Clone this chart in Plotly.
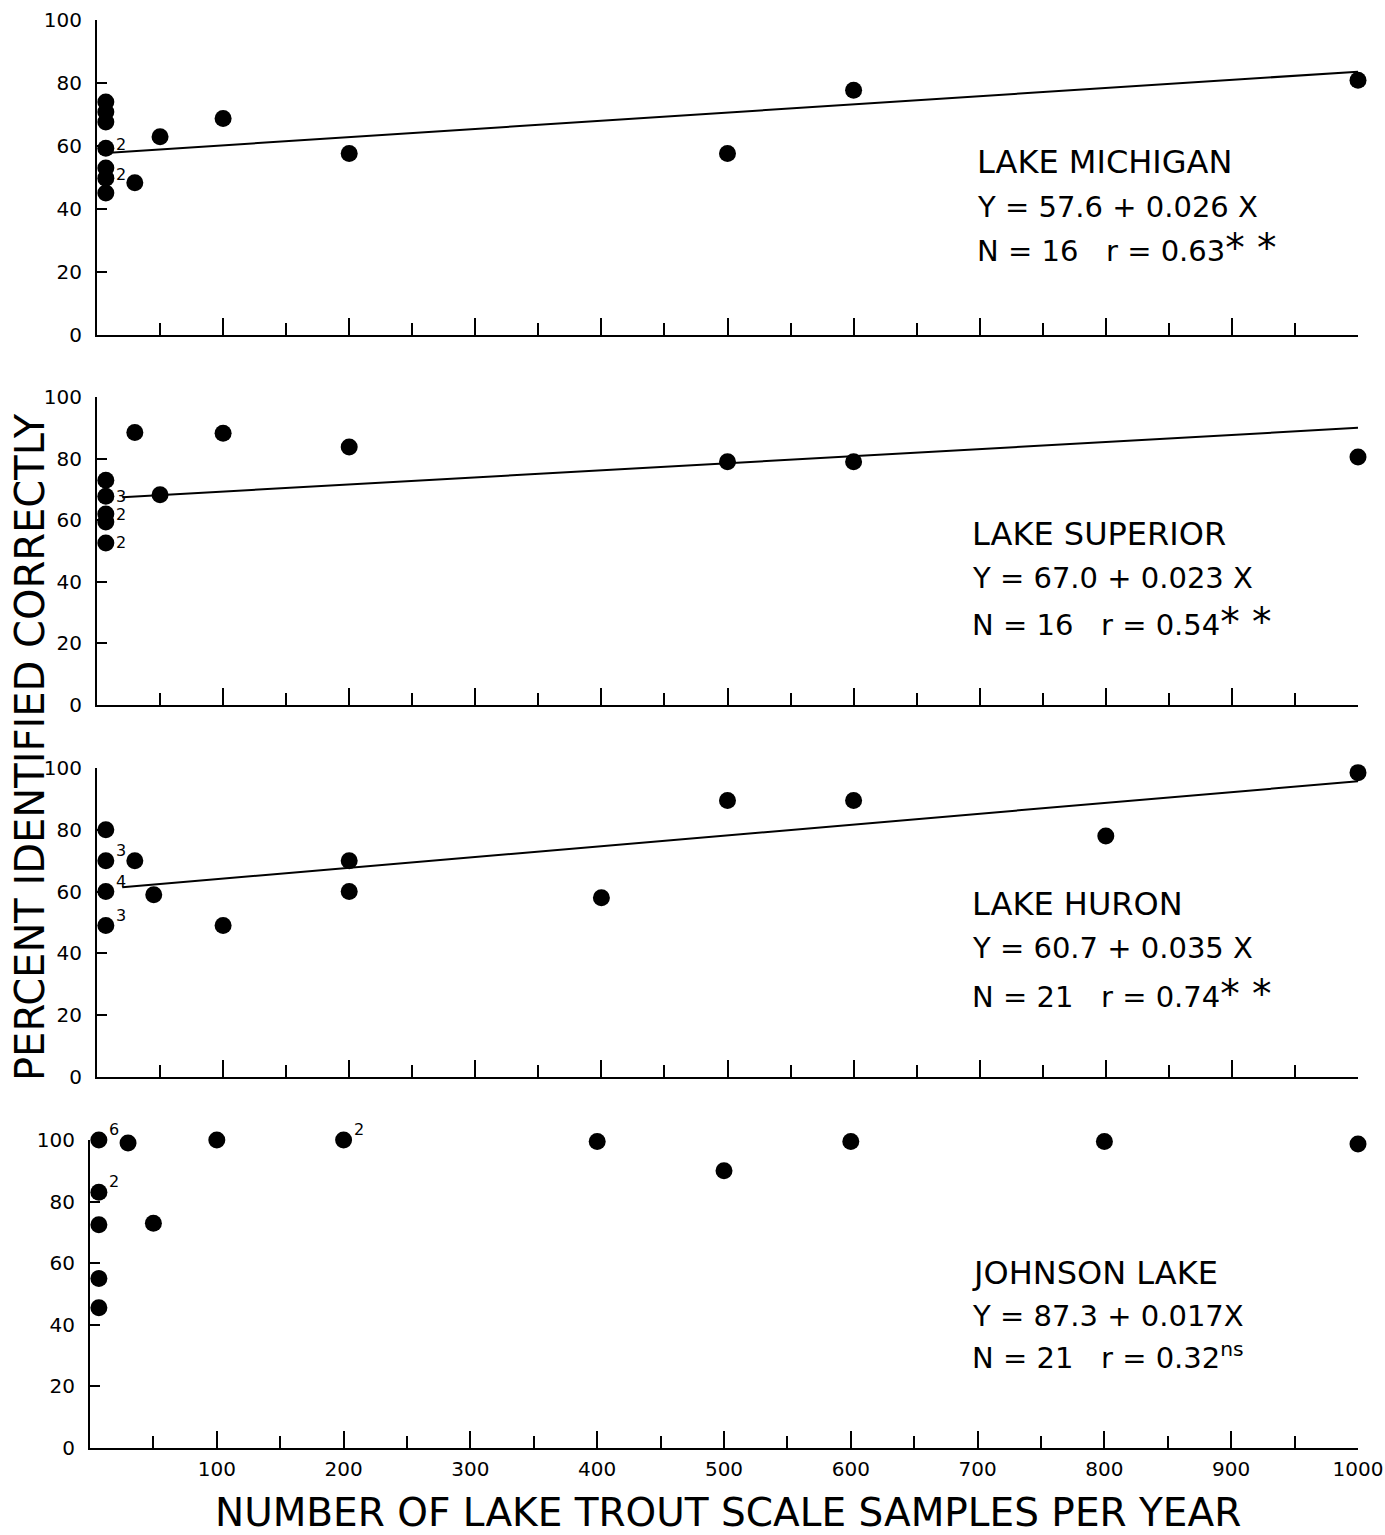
import plotly.graph_objects as go

# ---------------- data ----------------
lake_names = ["LAKE MICHIGAN", "LAKE SUPERIOR", "LAKE HURON", "JOHNSON LAKE"]
equations = ["Y = 57.6 + 0.026 X", "Y = 67.0 + 0.023 X", "Y = 60.7 + 0.035 X", "Y = 87.3 + 0.017X"]
intercepts = [57.6, 67.0, 60.7, 87.3]
slopes = [0.026, 0.023, 0.035, 0.017]
n_obs = [16, 16, 21, 21]
r_vals = ["0.63", "0.54", "0.74", "0.32"]
signif = ["* *", "* *", "* *", "ns"]
show_line = [True, True, True, False]
line_start = [10, 20, 20, 10]

michigan_x = [7, 7, 7, 7, 7, 7, 7, 30, 50, 100, 200, 500, 600, 1000]
michigan_y = [74, 70.8, 67.6, 59.3, 53, 49.8, 45.1, 48.3, 62.9, 68.7, 57.6, 57.6, 77.7, 80.9]
michigan_n = [1, 1, 1, 2, 1, 2, 1, 1, 1, 1, 1, 1, 1, 1]

superior_x = [7, 7, 7, 7, 7, 30, 50, 100, 200, 500, 600, 1000]
superior_y = [73, 67.8, 62, 59.4, 52.6, 88.5, 68.3, 88.2, 83.8, 79, 79, 80.5]
superior_n = [1, 3, 2, 1, 2, 1, 1, 1, 1, 1, 1, 1]

huron_x = [7, 7, 7, 7, 30, 45, 100, 200, 200, 400, 500, 600, 800, 1000]
huron_y = [80, 70, 60, 49, 70, 59, 49, 70, 60, 58, 89.5, 89.5, 78, 98.5]
huron_n = [1, 3, 4, 3, 1, 1, 1, 1, 1, 1, 1, 1, 1, 1]

johnson_x = [7, 7, 7, 7, 7, 30, 50, 100, 200, 400, 500, 600, 800, 1000]
johnson_y = [100, 83, 72.5, 55, 45.5, 99, 73, 100, 100, 99.5, 90, 99.5, 99.5, 98.7]
johnson_n = [6, 2, 1, 1, 1, 1, 1, 1, 2, 1, 1, 1, 1, 1]

series_x = [michigan_x, superior_x, huron_x, johnson_x]
series_y = [michigan_y, superior_y, huron_y, johnson_y]
series_n = [michigan_n, superior_n, huron_n, johnson_n]

x_tickvals = [100, 200, 300, 400, 500, 600, 700, 800, 900, 1000]
y_tickvals = [0, 20, 40, 60, 80, 100]

x_title = "NUMBER OF LAKE TROUT SCALE SAMPLES PER YEAR"
y_title = "PERCENT IDENTIFIED CORRECTLY"

# ---------------- layout helpers (pixel geometry) ----------------
W, H = 1385, 1535
FONT = "DejaVu Sans"


def fx(p):
    return p / W


def fy(p):
    return 1 - p / H


panel_px = [(20, 335), (397, 705), (768, 1077), (1140, 1448)]
panel_xpx = [(97, 1358), (97, 1358), (97, 1358), (90, 1358)]
text_px = [(975, 162, 207, 248), (970, 534, 578, 621), (970, 904, 948, 993), (970, 1273, 1316, 1356)]
label_yshift = [4, 0, 10, 11]

fig = go.Figure()
annotations = []
nb = "\u00a0"

for i in range(4):
    k = "" if i == 0 else str(i + 1)
    xr, yr = "x" + k, "y" + k
    fig.add_trace(go.Scatter(
        x=series_x[i], y=series_y[i], mode="markers",
        marker=dict(color="black", size=17, line=dict(width=0)),
        xaxis=xr, yaxis=yr, cliponaxis=False, hoverinfo="x+y",
    ))
    if show_line[i]:
        xs = [line_start[i], 1000]
        ys = [intercepts[i] + slopes[i] * v for v in xs]
        fig.add_trace(go.Scatter(
            x=xs, y=ys, mode="lines", line=dict(color="black", width=2),
            xaxis=xr, yaxis=yr, cliponaxis=False, hoverinfo="skip",
        ))
    for xv, yv, nv in zip(series_x[i], series_y[i], series_n[i]):
        if nv > 1:
            annotations.append(dict(
                x=xv, y=yv, xref=xr, yref=yr, text=str(nv), showarrow=False, borderpad=0,
                xshift=15, yshift=label_yshift[i], font=dict(family=FONT, size=16, color="black"),
            ))
    tx, y1, y2, y3 = text_px[i]
    sig = signif[i].replace(" ", nb)
    if "*" in sig:
        sup = f"<span style='font-size:39px'>{sig}</span>"
    else:
        sup = f"<sup>{sig}</sup>"
    stats = f"N{nb}={nb}{n_obs[i]}{nb*3}r{nb}={nb}{r_vals[i]}{sup}"
    rows = [(lake_names[i].replace(" ", nb), y1, 32),
            (equations[i].replace(" ", nb), y2, 29),
            (stats, y3, 29)]
    for txt, yy, fs in rows:
        annotations.append(dict(
            x=fx(tx), y=fy(yy), xref="paper", yref="paper", text=txt, showarrow=False,
            xanchor="left", yanchor="middle", font=dict(family=FONT, size=fs, color="black"),
        ))

    px0, px1 = panel_px[i]
    xd0, xd1 = panel_xpx[i]
    fig.layout["xaxis" + k] = dict(
        domain=[fx(xd0), fx(xd1)], range=[0, 1000], anchor=yr, automargin=False,
        showline=True, linecolor="black", linewidth=2, mirror=False,
        showgrid=False, zeroline=False,
        tickmode="array", tickvals=x_tickvals, ticks="inside", ticklen=17, tickwidth=2, tickcolor="black",
        minor=dict(dtick=50, tick0=0, ticks="inside", ticklen=12, tickwidth=2, tickcolor="black", showgrid=False),
        showticklabels=(i == 3), ticklabelstandoff=2,
        tickfont=dict(family=FONT, size=20, color="black"),
        fixedrange=True,
    )
    fig.layout["yaxis" + k] = dict(
        domain=[fy(px1), fy(px0)], range=[0, 100], anchor=xr, automargin=False,
        showline=True, linecolor="black", linewidth=2, mirror=False,
        showgrid=False, zeroline=False,
        tickmode="array", tickvals=y_tickvals, ticks="inside", ticklen=10, tickwidth=2, tickcolor="black",
        ticklabelstandoff=9,
        tickfont=dict(family=FONT, size=20, color="black"),
        fixedrange=True,
    )

annotations.append(dict(
    x=fx(728), y=fy(1512), xref="paper", yref="paper", text=x_title, showarrow=False,
    xanchor="center", yanchor="middle", font=dict(family=FONT, size=39, color="black"),
))
annotations.append(dict(
    x=fx(30), y=fy(747), xref="paper", yref="paper", text=y_title, showarrow=False, textangle=-90,
    xanchor="center", yanchor="middle", font=dict(family=FONT, size=40, color="black"),
))

fig.update_layout(
    width=W, height=H, margin=dict(l=0, r=0, t=0, b=0, autoexpand=False),
    plot_bgcolor="white", paper_bgcolor="white", showlegend=False,
    annotations=annotations,
)

fig.write_html("out.html", config={"displayModeBar": False},
               post_script="document.body.style.margin='0';")
